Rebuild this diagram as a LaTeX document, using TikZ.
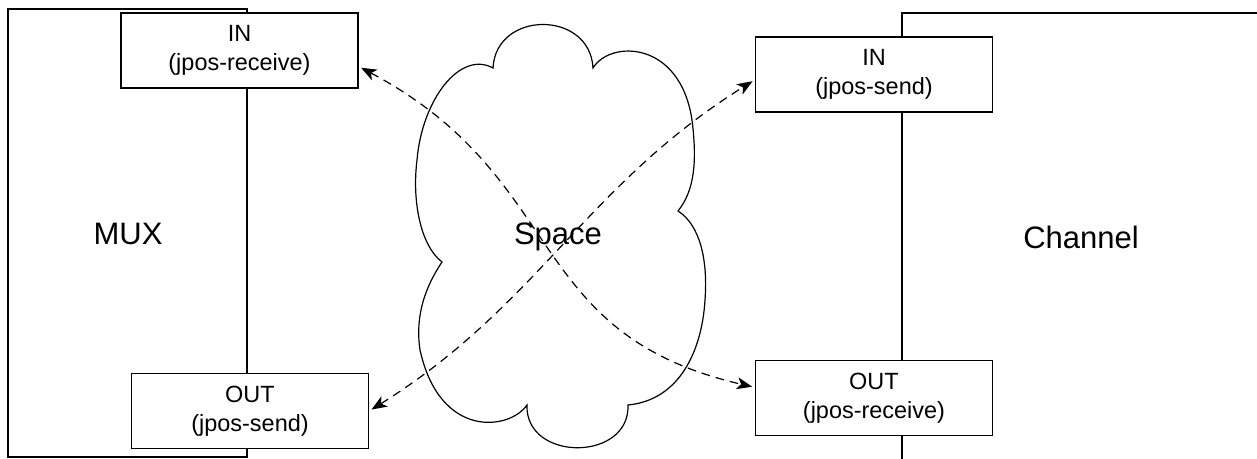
\documentclass[tikz,border=0pt]{standalone}
\usepackage{fontspec}
\setmainfont{Liberation Sans}
\usetikzlibrary{positioning,arrows.meta}

\tikzset{
  port/.style={draw, fill=white, line width=1.1pt, minimum width=177.75pt,
    minimum height=56.5pt, inner sep=0pt, align=center,
    font=\fontsize{17.6}{21.75}\selectfont},
  title/.style={font=\fontsize{23.25}{28}\selectfont},
  link/.style={<->, dash pattern=on 6.5pt off 4.5pt, line width=0.9pt,
    shorten <=2pt, shorten >=2pt}
}

\begin{document}
\begin{tikzpicture}[x=0.75pt, y=-0.75pt, >={Stealth[length=11.5pt,width=9pt,inset=3pt]}]
                \useasboundingbox (0,0) rectangle (1257,459);
                \clip (0,0) rectangle (1257,459);

                % the two sides
                \draw[line width=1.1pt] (8,9) rectangle (247,457);
                \draw[line width=1.1pt] (1270,13) -- (902,13) -- (902,470);
                \node[title] (mux) at (128,234) {MUX};
                \node[title] (chan) at (1081,237) {Channel};

                % the cloud in between
                \draw[line width=0.9pt] (493,68)
                    .. controls (496,10) and (590,10) .. (593,68)
                    .. controls (610,40) and (680,40) .. (692,120)
                    .. controls (697,160) and (695,190) .. (678,211)
                    .. controls (700,225) and (708,260) .. (705,300)
                    .. controls (702,350) and (680,400) .. (628,405)
                    .. controls (630,462) and (525,462) .. (527,405)
                    .. controls (510,430) and (440,440) .. (420,350)
                    .. controls (414,310) and (430,280) .. (442,262)
                    .. controls (420,245) and (412,200) .. (417,160)
                    .. controls (422,100) and (460,50) .. (493,68)
                    -- cycle;
                \node[title] (space) at (558,237) {Space};

                \node[port] (muxin) at (239.5,50.5) {IN\\(jpos-receive)};
                \node[port] (muxout) at (250,411) {OUT\\(jpos-send)};
                \node[port] (chin) at (874,74.5) {IN\\(jpos-send)};
                \node[port] (chout) at (874,398) {OUT\\(jpos-receive)};

                \path[link]
                    ([yshift=-12pt]muxin.east) edge[out=-28, in=167, looseness=1.2] ([yshift=8pt]chout.west)
                    (muxout.east) edge[out=32, in=-148] ([yshift=-4pt]chin.west)
                    ;
            \end{tikzpicture}
\end{document}
